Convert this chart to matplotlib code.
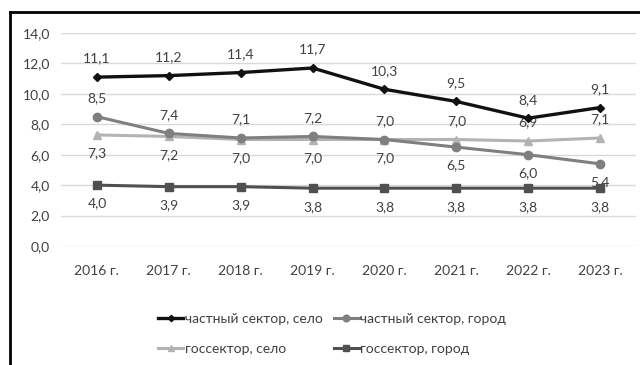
import matplotlib
matplotlib.use("Agg")
import matplotlib.pyplot as plt
from matplotlib.lines import Line2D

plt.rcParams['font.family'] = ['Lato', 'DejaVu Sans']

years = ['2016 г.', '2017 г.', '2018 г.', '2019 г.', '2020 г.', '2021 г.', '2022 г.', '2023 г.']
chast_selo = [11.1, 11.2, 11.4, 11.7, 10.3, 9.5, 8.4, 9.1]
chast_gorod = [8.5, 7.4, 7.1, 7.2, 7.0, 6.5, 6.0, 5.4]
gos_selo = [7.3, 7.2, 7.0, 7.0, 7.0, 7.0, 6.9, 7.1]
gos_gorod = [4.0, 3.9, 3.9, 3.8, 3.8, 3.8, 3.8, 3.8]
# где подпись: 1 сверху, -1 снизу
pos_chast_gorod = [1, 1, 1, 1, 1, -1, -1, -1]
pos_gos_selo = [-1, -1, -1, -1, -1, 1, 1, 1]

txt = '#404040'
fig = plt.figure(figsize=(6.4, 3.65), dpi=100)
ax = fig.add_axes([61/640, 119/365, 575/640, 213/365])
x = range(len(years))

l1, = ax.plot(x, chast_selo, color='#111111', lw=2.4, marker='D', ms=4, label='частный сектор, село', zorder=5)
l2, = ax.plot(x, chast_gorod, color='#7f7f7f', lw=2.2, marker='o', ms=6, label='частный сектор, город', zorder=4)
l3, = ax.plot(x, gos_selo, color='#b3b3b3', lw=2.2, marker='^', ms=6, label='госсектор, село', zorder=3)
l4, = ax.plot(x, gos_gorod, color='#505050', lw=2.2, marker='s', ms=6, label='госсектор, город', zorder=4)

def fmt(v):
    return ('%.1f' % v).replace('.', ',')

for i in x:
    ax.annotate(fmt(chast_selo[i]), (i, chast_selo[i]), xytext=(0, 9), textcoords='offset points',
                ha='center', va='bottom', fontsize=10, color=txt)
    ax.annotate(fmt(chast_gorod[i]), (i, chast_gorod[i]), xytext=(0, 9 * pos_chast_gorod[i]),
                textcoords='offset points', ha='center',
                va='bottom' if pos_chast_gorod[i] > 0 else 'top', fontsize=10, color=txt)
    ax.annotate(fmt(gos_selo[i]), (i, gos_selo[i]), xytext=(0, 9 * pos_gos_selo[i]),
                textcoords='offset points', ha='center',
                va='bottom' if pos_gos_selo[i] > 0 else 'top', fontsize=10, color=txt)
    ax.annotate(fmt(gos_gorod[i]), (i, gos_gorod[i]), xytext=(0, -9), textcoords='offset points',
                ha='center', va='top', fontsize=10, color=txt)

ax.set_xlim(-0.5, 7.5)
ax.set_ylim(0, 14)
ax.set_yticks(range(0, 15, 2))
ax.set_yticklabels([fmt(v) for v in range(0, 15, 2)], fontsize=10, color=txt)
ax.set_xticks(list(x))
ax.set_xticklabels(years, fontsize=10, color=txt)
ax.tick_params(length=0, pad=14, axis='x')
ax.tick_params(length=0, pad=8, axis='y')
ax.grid(axis='y', color='#d9d9d9', lw=1)
ax.set_axisbelow(True)
for s in ax.spines.values():
    s.set_visible(False)

# порядок: столбцы заполняются сверху вниз
fig.legend([l1, l3, l2, l4], [l1.get_label(), l3.get_label(), l2.get_label(), l4.get_label()],
           loc='center', bbox_to_anchor=(332/640, 1 - 334/365), ncol=2, frameon=False,
           fontsize=10, handlelength=1.8, handletextpad=0.1, columnspacing=0.8,
           labelspacing=1.3, labelcolor=txt, borderaxespad=0, markerscale=0.8)

# рамка
fig.add_artist(Line2D([10/640, 1], [1 - 12/365, 1 - 12/365], color='black', lw=2))
fig.add_artist(Line2D([10/640, 10/640], [0, 1 - 12/365], color='black', lw=2))

fig.savefig('out.png', dpi=100)
